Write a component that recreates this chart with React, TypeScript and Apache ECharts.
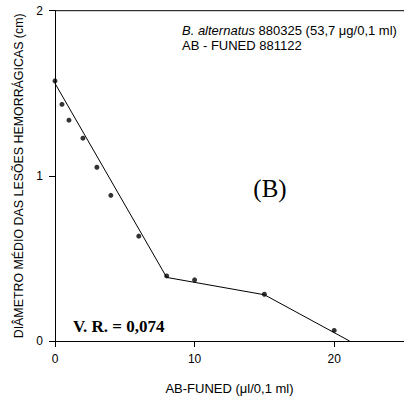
import React, { useEffect, useRef } from "react";
import * as echarts from "echarts";

const doseX = [0, 0.5, 1, 2, 3, 4, 6, 8, 10, 15, 20];
const diameterY = [1.575, 1.433, 1.337, 1.228, 1.052, 0.882, 0.635, 0.394, 0.37, 0.283, 0.064];
const fitX = [0, 8, 15, 21.1];
const fitY = [1.56, 0.385, 0.28, 0];
const xTicks = [0, 10, 20];
const yTicks = [0, 1, 2];

const legend1Italic = "B. alternatus";
const legend1Rest = " 880325 (53,7 μg/0,1 ml)";
const legend2 = "AB - FUNED 881122";
const panelLabel = "(B)";
const vrLabel = "V. R. = 0,074";

export default function App() {
  const ref = useRef<HTMLDivElement>(null);
  useEffect(() => {
    if (!ref.current) return;
    const chart = echarts.init(ref.current, null, { renderer: "svg" });
    const sans = "'Liberation Sans', Arial, sans-serif";
    const serif = "'Liberation Serif', 'Times New Roman', serif";
    chart.setOption({
      animation: false,
      backgroundColor: "#fff",
      grid: { left: 55, top: 10.7, right: -2.3, bottom: 56.7, containLabel: false, show: false },
      xAxis: {
        type: "value",
        min: 0,
        max: 25,
        interval: 10,
        name: "AB-FUNED (μl/0,1 ml)",
        nameLocation: "middle",
        nameGap: 41,
        nameTextStyle: { fontFamily: sans, fontSize: 13, color: "#000" },
        axisLine: { show: true, onZero: false, lineStyle: { color: "#000", width: 1 } },
        axisTick: { show: true, inside: false, length: 6, lineStyle: { color: "#000" } },
        axisLabel: {
          fontFamily: sans, fontSize: 12, color: "#000", margin: 12,
          customValues: xTicks,
        },
        splitLine: { show: false },
      },
      yAxis: {
        type: "value",
        min: 0,
        max: 2,
        interval: 1,
        name: "DIÂMETRO MÉDIO DAS LESÕES HEMORRÁGICAS (cm)",
        nameLocation: "middle",
        nameGap: 30,
        nameRotate: 90,
        nameTextStyle: { fontFamily: sans, fontSize: 12.4, color: "#000" },
        axisLine: { show: true, onZero: false, lineStyle: { color: "#000", width: 1 } },
        axisTick: { show: true, inside: false, length: 6, lineStyle: { color: "#000" } },
        axisLabel: { fontFamily: sans, fontSize: 12, color: "#000", margin: 12, customValues: yTicks },
        splitLine: { show: false },
      },
      graphic: [
        { type: "line", shape: { x1: 55, y1: 10.7, x2: 404, y2: 10.7 }, style: { stroke: "#000", lineWidth: 1 } },
        {
          type: "text", x: 182, y: 24,
          style: {
            text: "{i|" + legend1Italic + "}{r|" + legend1Rest + "}",
            rich: {
              i: { fontFamily: sans, fontSize: 13, fontStyle: "italic", fill: "#000" },
              r: { fontFamily: sans, fontSize: 13, fill: "#000" },
            },
          },
        },
        {
          type: "text", x: 182, y: 39,
          style: { text: legend2, fontFamily: sans, fontSize: 13, fill: "#000" },
        },
        {
          type: "text", x: 270, y: 188,
          style: { text: panelLabel, fontFamily: serif, fontSize: 25, fill: "#000", align: "center", verticalAlign: "middle" },
        },
        {
          type: "text", x: 73, y: 326,
          style: { text: vrLabel, fontFamily: serif, fontSize: 17, fontWeight: "bold", fill: "#000", align: "left", verticalAlign: "middle" },
        },
      ],
      series: [
        {
          type: "line",
          data: fitX.map((x, i) => [x, fitY[i]]),
          showSymbol: false,
          symbol: "none",
          lineStyle: { color: "#000", width: 1 },
          silent: true,
          z: 2,
        },
        {
          type: "scatter",
          data: doseX.map((x, i) => [x, diameterY[i]]),
          symbol: "circle",
          symbolSize: 5,
          itemStyle: { color: "#000" },
          z: 3,
        },
      ],
    });
    return () => chart.dispose();
  }, []);
  return <div ref={ref} style={{ position: "absolute", left: 0, top: 0, width: 404, height: 400 }} />;
}
